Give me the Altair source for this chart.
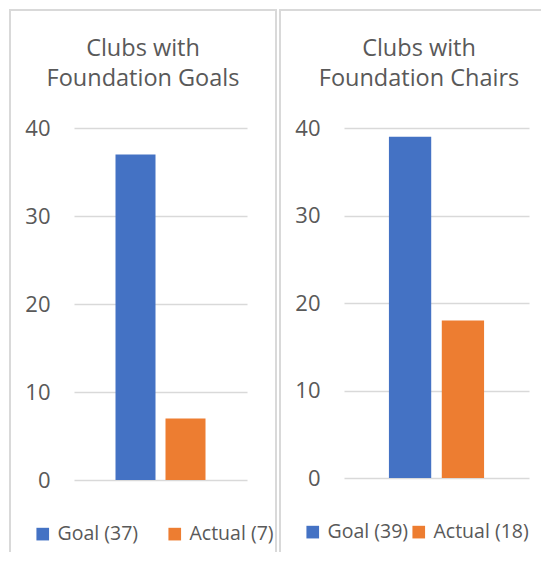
import altair as alt
import pandas as pd

# ---- data ----
titles = [["Clubs with", "Foundation Goals"], ["Clubs with", "Foundation Chairs"]]
series = ["Goal", "Actual"]
goals_values = [37, 7]
chairs_values = [39, 18]
y_ticks = [0, 10, 20, 30, 40]
colors = ["#4472C4", "#ED7D31"]

FONT = "Open Sans"
TXT = "#595959"
GRID = "#D9D9D9"


def panel(title, values, width, height, p_inner, p_outer, right_edge, draw_right, col_pad, title_x):
    labels = [f"{s} ({v})" for s, v in zip(series, values)]
    df = pd.DataFrame({"series": series, "value": values, "label": labels})
    base = alt.Chart(df)
    bars = base.mark_bar().encode(
        x=alt.X("series:N", sort=series, axis=None,
                scale=alt.Scale(paddingInner=p_inner, paddingOuter=p_outer)),
        y=alt.Y("value:Q", scale=alt.Scale(domain=[0, 40], nice=False),
                axis=alt.Axis(values=y_ticks, title=None, domain=False, ticks=False,
                              labelPadding=24, labelFontSize=22, labelFont=FONT,
                              labelColor=TXT, gridColor=GRID, gridWidth=1.5)),
        color=alt.Color("label:N", sort=labels,
                        scale=alt.Scale(domain=labels, range=colors),
                        legend=alt.Legend(title=None, orient="none", legendX=-41,
                                          legendY=height + 44, gridAlign="each", padding=0,
                                          direction="horizontal", symbolType="square",
                                          symbolSize=160, symbolStrokeWidth=0,
                                          labelFontSize=19.5, labelFont=FONT, labelColor=TXT,
                                          columnPadding=col_pad, labelOffset=5)),
    )
    bottom = 424
    top_line = base.mark_rule(stroke=GRID, strokeWidth=2, strokeCap="butt").encode(
        x=alt.value(-65), x2=alt.value(right_edge), y=alt.value(-118))
    left_line = base.mark_rule(stroke=GRID, strokeWidth=2, strokeCap="butt").encode(
        x=alt.value(-64), y=alt.value(-119), y2=alt.value(bottom))
    layers = [top_line, left_line]
    if draw_right:
        layers.append(base.mark_rule(stroke=GRID, strokeWidth=2, strokeCap="butt").encode(
            x=alt.value(right_edge - 1), y=alt.value(-119), y2=alt.value(bottom)))
    txt = dict(font=FONT, fontSize=23.5, color=TXT, align="center", baseline="alphabetic")
    one = pd.DataFrame({"t": [0]})
    head1 = alt.Chart(one).mark_text(**txt).encode(
        text=alt.value(title[0]), x=alt.value(title_x), y=alt.value(-72))
    head2 = alt.Chart(one).mark_text(**txt).encode(
        text=alt.value(title[1]), x=alt.value(title_x), y=alt.value(-42))
    layers += [head1, head2, bars]
    return alt.layer(*layers).properties(width=width, height=height)


left = panel(titles[0], goals_values, 173, 352, 0.2, 0.83, 203, True, 26, 142 - 73)
right = panel(titles[1], chairs_values, 185, 350, 0.2, 0.85, 197, False, -12, 416 - 341)

chart = alt.hconcat(left, right, spacing=0).resolve_scale(color="independent").properties(
    padding=0
).configure_view(stroke=None)

chart.save("out.html", embed_options={"renderer": "svg", "actions": False})
